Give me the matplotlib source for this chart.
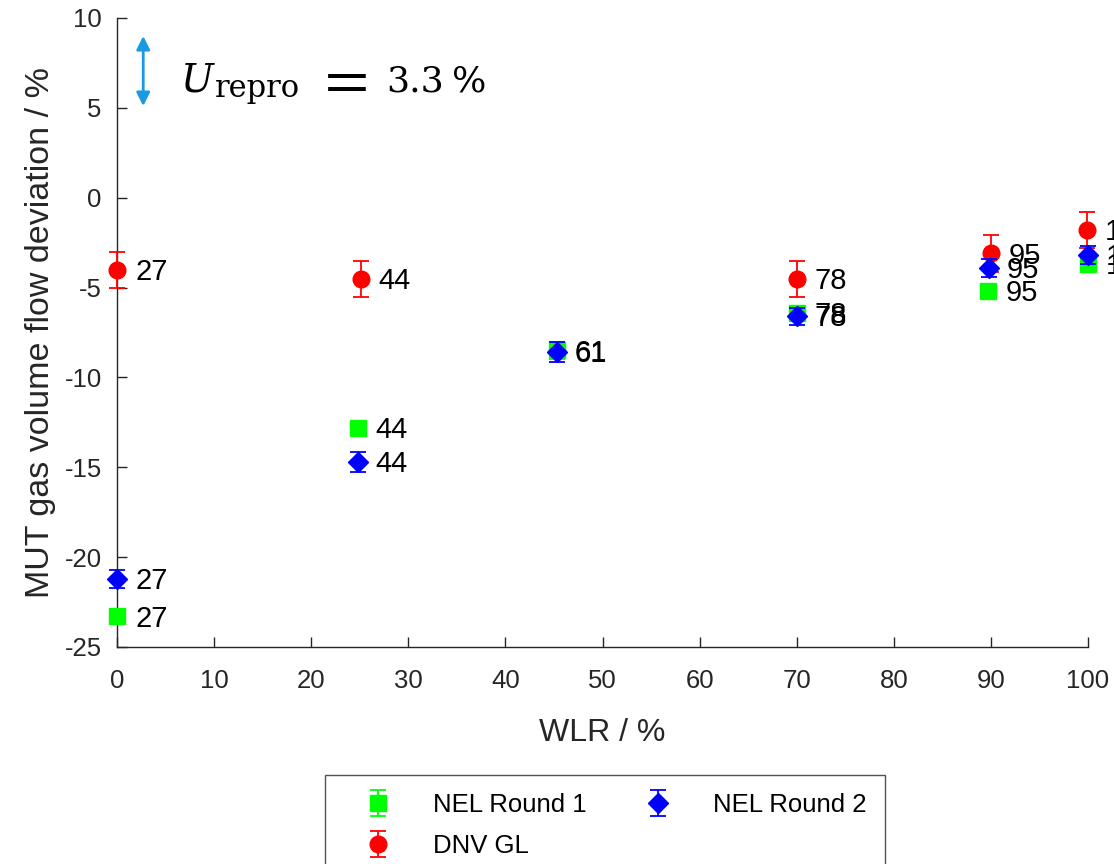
import matplotlib
matplotlib.use("Agg")
import matplotlib.pyplot as plt

plt.rcParams['font.family'] = ['Liberation Sans', 'DejaVu Sans']
plt.rcParams['axes.unicode_minus'] = False

# NEL Round 1 (green squares)
nel1_x = [0.0, 24.8, 45.3, 70.0, 89.7, 100.0]
nel1_y = [-23.3, -12.8, -8.5, -6.4, -5.2, -3.7]
nel1_err = [0.2, 0.2, 0.45, 0.3, 0.2, 0.3]
nel1_lbl = ["27", "44", "61", "78", "95", "100"]

# NEL Round 2 (blue diamonds)
nel2_x = [0.0, 24.8, 45.3, 70.0, 89.8, 100.0]
nel2_y = [-21.2, -14.7, -8.6, -6.6, -3.9, -3.2]
nel2_err = [0.5, 0.55, 0.55, 0.47, 0.5, 0.5]
nel2_lbl = ["27", "44", "61", "78", "95", "100"]

# DNV GL (red circles)
dnv_x = [0.0, 25.1, 70.0, 90.0, 99.9]
dnv_y = [-4.0, -4.5, -4.5, -3.1, -1.8]
dnv_err = [1.0, 1.0, 1.0, 1.05, 1.0]
dnv_lbl = ["27", "44", "78", "95", "100"]

u_repro_text = "3.3"

W, H = 1114, 864
fig = plt.figure(figsize=(W/100, H/100), dpi=100)
ax = fig.add_axes([117/W, 1-647/H, (1088-117)/W, (647-18)/H])

axcol = (0.15, 0.15, 0.15)

h1 = ax.errorbar(nel1_x, nel1_y, yerr=nel1_err, fmt='s', color=(0, 1, 0),
                 markersize=11, capsize=6, elinewidth=1.3, capthick=1.3,
                 label='NEL Round 1', clip_on=False, zorder=3)
h3 = ax.errorbar(dnv_x, dnv_y, yerr=dnv_err, fmt='o', color=(1, 0, 0),
                 markersize=12, capsize=6, elinewidth=1.3, capthick=1.3,
                 label='DNV GL', clip_on=False, zorder=3)
h2 = ax.errorbar(nel2_x, nel2_y, yerr=nel2_err, fmt='D', color=(0, 0, 1),
                 markersize=10, capsize=6, elinewidth=1.3, capthick=1.3,
                 label='NEL Round 2', clip_on=False, zorder=4)

for xs, ys, ls in [(nel1_x, nel1_y, nel1_lbl), (nel2_x, nel2_y, nel2_lbl), (dnv_x, dnv_y, dnv_lbl)]:
    for x, y, l in zip(xs, ys, ls):
        ax.annotate(l, (x, y), xytext=(13, -1.5), textcoords='offset points',
                    va='center', ha='left', fontsize=21, color='black',
                    annotation_clip=False)

ax.set_xlim(0, 100)
ax.set_ylim(-25, 10)
ax.set_xticks(range(0, 101, 10))
ax.set_yticks(range(-25, 11, 5))
ax.tick_params(direction='in', length=7, width=1, colors=axcol, labelsize=18.5)
ax.tick_params(axis='x', pad=16)
ax.tick_params(axis='y', pad=11)
for s in ['top', 'right']:
    ax.spines[s].set_visible(False)
for s in ['left', 'bottom']:
    ax.spines[s].set_color(axcol)
    ax.spines[s].set_linewidth(1)

ax.set_xlabel('WLR / %', fontsize=23, color=axcol, labelpad=18)
ax.set_ylabel('MUT gas volume flow deviation / %', fontsize=24.5, color=axcol, labelpad=6)

# reproducibility annotation
ax.annotate('', xy=(2.7, 9.0), xytext=(2.7, 5.1),
            arrowprops=dict(arrowstyle='<|-|>', color='#1A9BE0', lw=2,
                            mutation_scale=20, shrinkA=0, shrinkB=0))

def ftxt(x, y, s, **kw):
    fig.text(x/W, 1 - y/H, s, ha='left', va='baseline', color='black', **kw)

ftxt(180, 92, 'U', fontsize=28, style='italic', family='DejaVu Serif')
ftxt(215, 97, 'repro', fontsize=22, family='DejaVu Serif')
ftxt(315, 97, r'$=$', fontsize=46, math_fontfamily='stix')
ftxt(386, 92, u_repro_text, fontsize=26, family='DejaVu Serif')
ftxt(452, 92, '%', fontsize=26, family='DejaVu Serif')

leg = fig.legend(handles=[h1, h3, h2], labels=['NEL Round 1', 'DNV GL', 'NEL Round 2'],
                 ncol=2, loc='upper left', bbox_to_anchor=(325/W, 1-775/H),
                 borderaxespad=0, fontsize=18.5, frameon=True, fancybox=False,
                 edgecolor=axcol, handlelength=2.7, handletextpad=0.8,
                 columnspacing=1.43, borderpad=0.7, labelspacing=0.65)
leg.get_frame().set_linewidth(1)

fig.savefig('out.png', dpi=100)
